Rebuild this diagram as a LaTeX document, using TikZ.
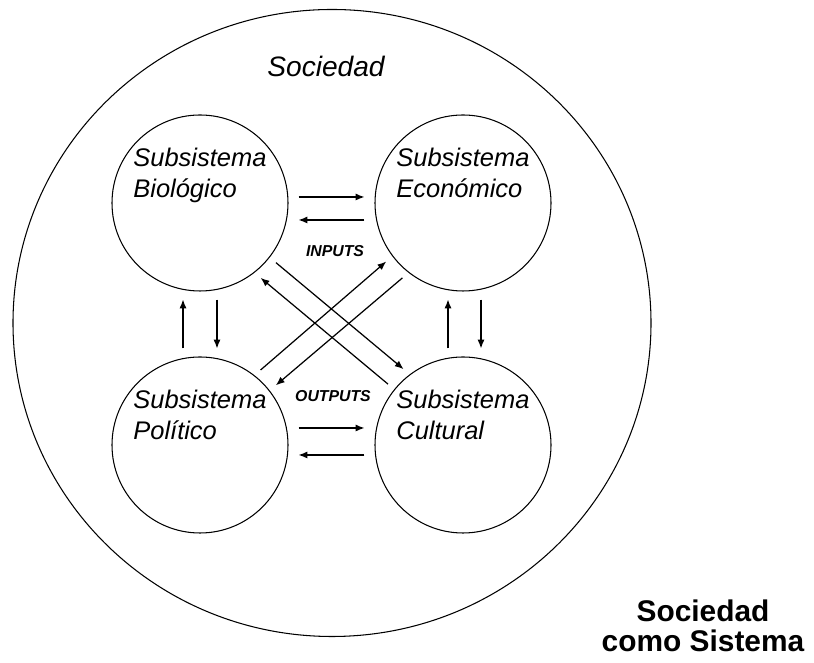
\documentclass[tikz,border=0pt]{standalone}
\usepackage{fontspec}
\setmainfont{Liberation Sans}
\usetikzlibrary{arrows.meta}

\begin{document}
\begin{tikzpicture}[
	sub/.style={draw,circle,minimum size=3.52cm,inner sep=0pt,line width=0.6pt},
	subtxt/.style={anchor=north west,align=left,inner sep=0pt,font=\fontsize{14.5}{17.6}\selectfont\itshape},
	flow/.style={-{Latex[length=5pt,width=4pt]},line width=0.7pt,shorten >=0.16cm,shorten <=0.16cm},
	io/.style={anchor=base,inner sep=0pt,font=\fontsize{9}{10}\selectfont\bfseries\itshape}]
				\useasboundingbox (0,0) rectangle (16.28,13.26);
				\draw[line width=0.6pt] (6.64,6.80) ellipse (6.38cm and 6.27cm);
				\node[anchor=base,font=\fontsize{16}{18}\selectfont\itshape] (sociedad) at (6.52,11.72) {Sociedad};
				\node[sub] (bio) at (4.00,9.20) {};
				\node[sub] (eco) at (9.26,9.20) {};
				\node[sub] (pol) at (4.00,4.36) {};
				\node[sub] (cul) at (9.26,4.36) {};
				\node[subtxt] (bio-txt) at ([xshift=-1.34cm,yshift=1.11cm]bio.center) {Subsistema\\Biológico};
				\node[subtxt] (eco-txt) at ([xshift=-1.34cm,yshift=1.11cm]eco.center) {Subsistema\\Económico};
				\node[subtxt] (pol-txt) at ([xshift=-1.34cm,yshift=1.11cm]pol.center) {Subsistema\\Político};
				\node[subtxt] (cul-txt) at ([xshift=-1.34cm,yshift=1.11cm]cul.center) {Subsistema\\Cultural};
				% horizontal
				\draw[flow,shorten >=0.2cm,shorten <=0.2cm] ([yshift=0.12cm]bio.east) -- ([yshift=0.12cm]bio.east -| eco.west);
				\draw[flow,shorten >=0.2cm,shorten <=0.2cm] ([yshift=-0.34cm]eco.west) -- ([yshift=-0.34cm]eco.west -| bio.east);
				\draw[flow,shorten >=0.2cm,shorten <=0.2cm] ([yshift=0.34cm]pol.east) -- ([yshift=0.34cm]pol.east -| cul.west);
				\draw[flow,shorten >=0.2cm,shorten <=0.2cm] ([yshift=-0.2cm]cul.west) -- ([yshift=-0.2cm]cul.west -| pol.east);
				% vertical
				\draw[flow] ([xshift=-0.34cm]pol.north) -- ([xshift=-0.34cm]bio.south);
				\draw[flow] ([xshift=0.34cm]bio.south) -- ([xshift=0.34cm]pol.north);
				\draw[flow] ([xshift=-0.3cm]cul.north) -- ([xshift=-0.3cm]eco.south);
				\draw[flow] ([xshift=0.36cm]eco.south) -- ([xshift=0.36cm]cul.north);
				% diagonal
				\draw[flow] (bio.-38) -- (cul.127);
				\draw[flow] (cul.141) -- (bio.-52);
				\draw[flow] (pol.52) -- (eco.217);
				\draw[flow] (eco.232) -- (pol.38);
				\node[io] (inputs) at (6.70,8.12) {INPUTS};
				\node[io] (outputs) at (6.66,5.22) {OUTPUTS};
				\node[anchor=north,align=center,inner sep=0pt,font=\fontsize{17}{17}\selectfont\bfseries] (titulo) at (14.06,1.26) {Sociedad\\como Sistema};
			\end{tikzpicture}
\end{document}
